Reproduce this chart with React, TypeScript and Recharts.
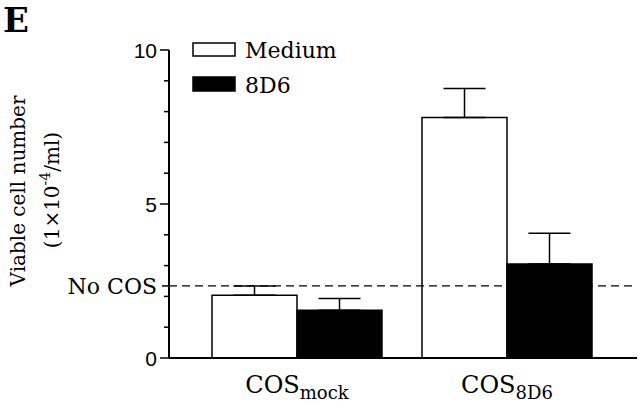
import React from 'react';
import { BarChart, Bar, XAxis, YAxis, ErrorBar, ReferenceLine, Legend } from 'recharts';

const categories = ['mock', '8D6'];
const mediumValues = [2.04, 7.81];
const mediumErrors = [0.3, 0.94];
const d8d6Values = [1.55, 3.05];
const d8d6Errors = [0.38, 1.0];
const noCosLevel = 2.34;
const yTicks = [0, 1, 2, noCosLevel, 3, 4, 5, 6, 7, 8, 9, 10];
const majorTicks = [0, 5, 10];
const seriesNames = ['Medium', '8D6'];

const data = categories.map((c, i) => ({
  name: c,
  medium: mediumValues[i],
  mediumErr: [0, mediumErrors[i]],
  d8d6: d8d6Values[i],
  d8d6Err: [0, d8d6Errors[i]],
}));

const SERIF = '"DejaVu Serif", serif';
const SANS = '"Liberation Sans", Arial, sans-serif';

const YTick = (props: any) => {
  const { x, y, payload } = props;
  const v = payload.value;
  const isMajor = majorTicks.includes(v);
  const isNoCos = v === noCosLevel;
  const len = isMajor ? 9 : isNoCos ? 7 : 5;
  return (
    <g>
      <line x1={x - len} x2={x} y1={y} y2={y} stroke="#000" strokeWidth={1.5} />
      {isMajor && (
        <text x={x - 12} y={y} dy="0.36em" textAnchor="end" fontFamily={SANS} fontSize={21} fill="#000">
          {v}
        </text>
      )}
      {isNoCos && (
        <text x={x - 12} y={y} dy="0.36em" textAnchor="end" fontFamily={SERIF} fontSize={22} fill="#000">
          No COS
        </text>
      )}
    </g>
  );
};

const XTick = (props: any) => {
  const { x, y, payload } = props;
  return (
    <text x={x} y={y + 35} textAnchor="middle" fontFamily={SERIF} fontSize={24} fill="#000">
      <tspan>COS</tspan>
      <tspan fontSize={18} dy={6}>{payload.value}</tspan>
    </text>
  );
};

const AxisTitle = () => (
  <g>
    <text x={3} y={32} fontFamily={SERIF} fontSize={34} fontWeight="bold" fill="#000">E</text>
    <text x={25} y={191} transform="rotate(-90, 25, 191)" textAnchor="middle" fontFamily={SERIF} fontSize={20} fill="#000">
      Viable cell number
    </text>
    <text x={59} y={190} transform="rotate(-90, 59, 190)" textAnchor="middle" fontFamily={SERIF} fontSize={20} fill="#000">
      <tspan>(1×10</tspan>
      <tspan fontSize={14} dy={-9}>-4</tspan>
      <tspan dy={9}>/ml)</tspan>
    </text>
  </g>
);

const LegendContent = () => (
  <svg width={200} height={70} style={{ display: 'block' }}>
    <rect x={5} y={7} width={42} height={13} fill="#fff" stroke="#000" strokeWidth={1.5} />
    <text x={57} y={22} fontFamily={SERIF} fontSize={22} fill="#000">{seriesNames[0]}</text>
    <rect x={5} y={41} width={42} height={14} fill="#000" stroke="#000" strokeWidth={1.5} />
    <text x={57} y={57} fontFamily={SERIF} fontSize={22} fill="#000">{seriesNames[1]}</text>
  </svg>
);

export default function App() {
  return (
    <div style={{ position: 'absolute', left: 0, top: 0, width: 640, height: 406, background: '#fff' }}>
      <BarChart
        width={640}
        height={406}
        data={data}
        margin={{ top: 50, right: 3, bottom: 0, left: 0 }}
        barGap={0}
      >
        <XAxis
          dataKey="name"
          height={48}
          padding={{ left: 23, right: 25 }}
          axisLine={{ stroke: '#000', strokeWidth: 2 }}
          tickLine={false}
          tickSize={0}
          tickMargin={0}
          tick={<XTick />}
        />
        <YAxis
          width={169}
          domain={[0, 10]}
          ticks={yTicks}
          interval={0}
          axisLine={{ stroke: '#000', strokeWidth: 2 }}
          tickLine={false}
          tickSize={0}
          tickMargin={0}
          tick={<YTick />}
          label={{ content: () => <AxisTitle /> }}
        />
        <Legend
          layout="vertical"
          align="center"
          verticalAlign="middle"
          content={() => <LegendContent />}
          wrapperStyle={{ position: 'absolute', left: 188, top: 36, width: 200 }}
        />
        <Bar dataKey="medium" name={seriesNames[0]} fill="#fff" stroke="#000" strokeWidth={1.5} barSize={85} isAnimationActive={false}>
          <ErrorBar dataKey="mediumErr" direction="y" width={21} stroke="#000" strokeWidth={1.5} isAnimationActive={false} />
        </Bar>
        <Bar dataKey="d8d6" name={seriesNames[1]} fill="#000" stroke="#000" strokeWidth={1.5} barSize={85} isAnimationActive={false}>
          <ErrorBar dataKey="d8d6Err" direction="y" width={21} stroke="#000" strokeWidth={1.5} isAnimationActive={false} />
        </Bar>
        <ReferenceLine y={noCosLevel} stroke="#000" strokeWidth={1.3} strokeDasharray="8 5" ifOverflow="extendDomain" />
      </BarChart>
    </div>
  );
}
